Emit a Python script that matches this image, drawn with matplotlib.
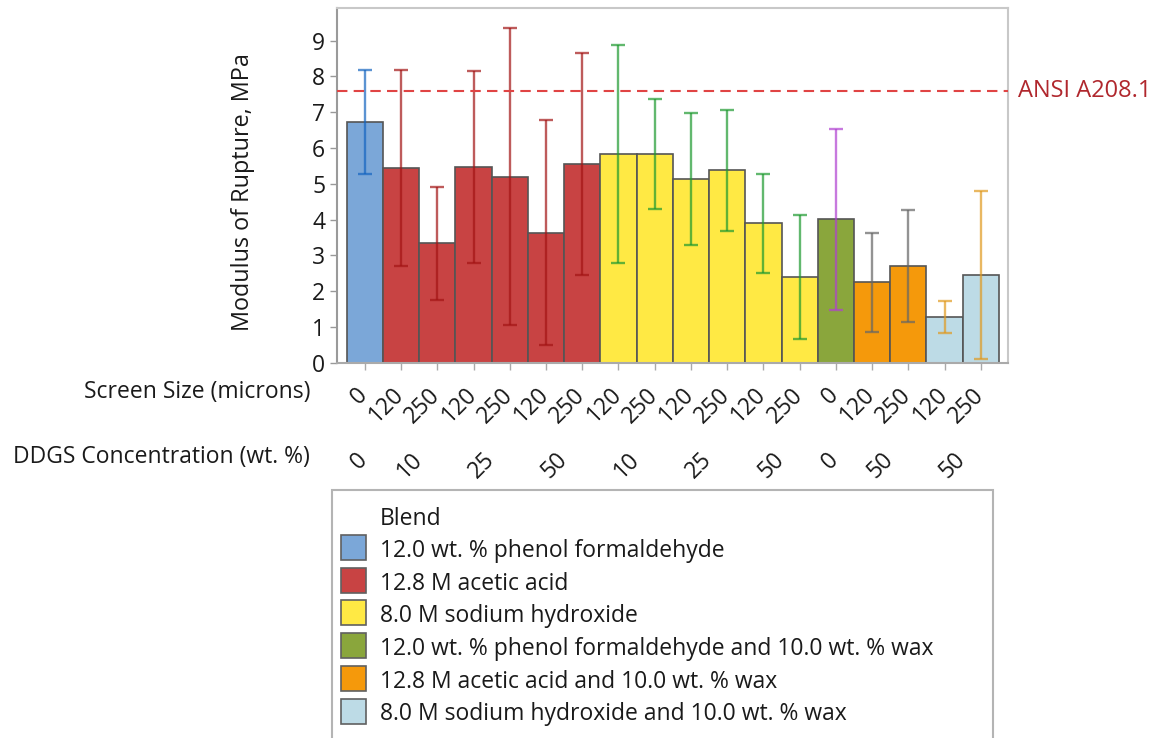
import matplotlib
matplotlib.use("Agg")
import matplotlib.pyplot as plt
import matplotlib.transforms as mtransforms
from matplotlib.patches import Rectangle
import numpy as np

plt.rcParams['font.family'] = ['Open Sans', 'DejaVu Sans']

# ---- data -------------------------------------------------------------
blends = [
    "12.0 wt. % phenol formaldehyde",
    "12.8 M acetic acid",
    "8.0 M sodium hydroxide",
    "12.0 wt. % phenol formaldehyde and 10.0 wt. % wax",
    "12.8 M acetic acid and 10.0 wt. % wax",
    "8.0 M sodium hydroxide and 10.0 wt. % wax",
]
blend_colors = ["#7ba7d8", "#c84343", "#ffe944", "#8aa63c", "#f5990b", "#bddbe6"]
error_colors = ["#1565c0", "#a31515", "#1f9a30", "#b040d0", "#666666", "#e09a20"]

bar_blend = [0, 1, 1, 1, 1, 1, 1, 2, 2, 2, 2, 2, 2, 3, 4, 4, 5, 5]
screen_size = ["0", "120", "250", "120", "250", "120", "250",
               "120", "250", "120", "250", "120", "250",
               "0", "120", "250", "120", "250"]
ddgs_labels = ["0", "10", "25", "50", "10", "25", "50", "0", "50", "50"]
ddgs_first_bar = [0, 1, 3, 5, 7, 9, 11, 13, 14, 16]
ddgs_last_bar = [0, 2, 4, 6, 8, 10, 12, 13, 15, 17]

mor_mean = [6.72, 5.45, 3.34, 5.47, 5.20, 3.63, 5.55,
            5.83, 5.83, 5.13, 5.37, 3.89, 2.39,
            4.01, 2.25, 2.71, 1.28, 2.44]
mor_sd = [1.46, 2.74, 1.58, 2.69, 4.14, 3.14, 3.09,
          3.05, 1.54, 1.84, 1.69, 1.38, 1.74,
          2.53, 1.38, 1.56, 0.44, 2.35]
ansi_mor = 7.6

# ---- figure -----------------------------------------------------------
W, H = 1157, 738
TXT = "#1a1a1a"
FS = 16.5
fig = plt.figure(figsize=(W / 100, H / 100), dpi=100)


def fx(x):
    return x / W


def fy(y):
    return 1 - y / H


ax_left, ax_right, ax_top, ax_bottom = 337, 1008, 8.3, 362.7
ax = fig.add_axes([fx(ax_left), fy(ax_bottom),
                   (ax_right - ax_left) / W, (ax_bottom - ax_top) / H])

x = np.arange(len(mor_mean))
ax.bar(x, mor_mean, width=1.0,
       color=[blend_colors[b] for b in bar_blend],
       edgecolor="#555555", linewidth=1.2, zorder=2)

for b in range(len(blends)):
    idx = [i for i, bb in enumerate(bar_blend) if bb == b]
    ax.errorbar(x[idx], [mor_mean[i] for i in idx], yerr=[mor_sd[i] for i in idx],
                fmt="none", ecolor=error_colors[b], elinewidth=1.7,
                capsize=5, capthick=1.7, alpha=0.7, zorder=3)

ax.axhline(ansi_mor, color="#e04444", linewidth=1.5, dashes=(5, 3), zorder=4)
label_shift = mtransforms.ScaledTranslation(10 / 100, 0, fig.dpi_scale_trans)
ax.text(1.0, ansi_mor, "ANSI A208.1",
        transform=ax.get_yaxis_transform() + label_shift,
        ha="left", va="center", fontsize=17, color="#b0272d", clip_on=False)

ax.set_xlim(-0.768, 17.75)
ax.set_ylim(0, 9.9)
ax.set_yticks(range(10))
ax.tick_params(axis="y", labelsize=FS, length=5, width=1, color="#999999",
               pad=3.5, labelcolor=TXT)
ax.set_xticks(x)
ax.set_xticklabels([])
ax.tick_params(axis="x", length=5, width=1, color="#aaaaaa")

for side, col in [("left", "#9a9a9a"), ("bottom", "#aaaaaa"),
                  ("top", "#c8c8c8"), ("right", "#c8c8c8")]:
    ax.spines[side].set_color(col)
    ax.spines[side].set_linewidth(1.5)

fig.text(fx(243), fy(192), "Modulus of Rupture, MPa", rotation=90,
         ha="center", va="center", fontsize=16.8, color=TXT)

# rotated category labels below the axis
xfig = mtransforms.blended_transform_factory(ax.transData, fig.transFigure)
shift = mtransforms.ScaledTranslation(8 / 100, 0, fig.dpi_scale_trans)
for i, lab in enumerate(screen_size):
    fig.text(x[i], fy(383), lab, transform=xfig + shift, rotation=45,
             ha="right", va="top", fontsize=FS, color=TXT)
for lab, a, b in zip(ddgs_labels, ddgs_first_bar, ddgs_last_bar):
    fig.text((x[a] + x[b]) / 2, fy(448), lab, transform=xfig + shift, rotation=45,
             ha="right", va="top", fontsize=FS, color=TXT)

fig.text(fx(310), fy(398), "Screen Size (microns)", ha="right", va="baseline",
         fontsize=FS, color=TXT)
fig.text(fx(310), fy(463), "DDGS Concentration (wt. %)", ha="right",
         va="baseline", fontsize=FS, color=TXT)

# legend panel
fig.patches.append(Rectangle((fx(332), fy(760)), (993 - 332) / W, (760 - 490) / H,
                             transform=fig.transFigure, facecolor="white",
                             edgecolor="#b4b4b4", linewidth=1.5))
fig.text(fx(380), fy(525), "Blend", ha="left", va="baseline", fontsize=FS,
         color=TXT)
row_step = 32.7
for i, (name, col) in enumerate(zip(blends, blend_colors)):
    top = 535 + row_step * i
    fig.patches.append(Rectangle((fx(341), fy(top + 25)), 25 / W, 25 / H,
                                 transform=fig.transFigure, facecolor=col,
                                 edgecolor="#606060", linewidth=1.2))
    fig.text(fx(380), fy(557 + row_step * i), name, ha="left", va="baseline",
             fontsize=FS, color=TXT)

fig.savefig("out.png", dpi=100)
